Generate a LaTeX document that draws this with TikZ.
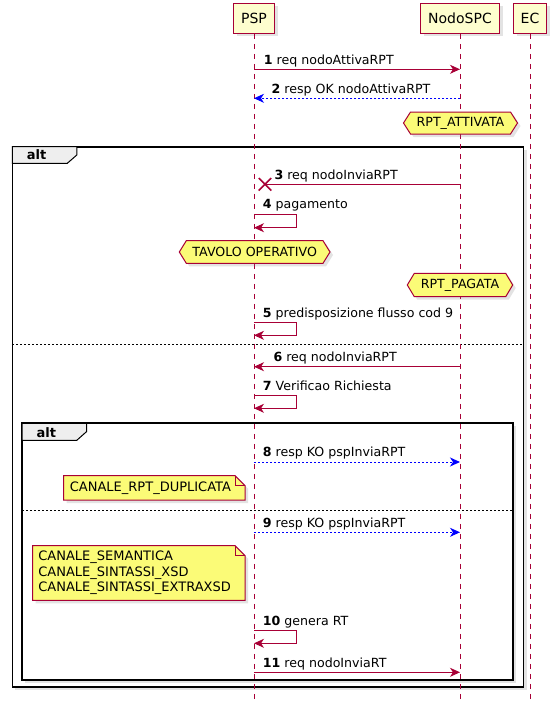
\documentclass[tikz,border=0pt]{standalone}
\usepackage{fontspec}
\setmainfont{DejaVu Sans}
\usetikzlibrary{arrows.meta,shadows,shapes.misc}
\definecolor{umlred}{HTML}{A80036}
\definecolor{umlbox}{HTML}{FEFECE}
\definecolor{umlnote}{HTML}{FBFB77}
\definecolor{umltab}{HTML}{EEEEEE}
\newcommand{\nr}[1]{\textbf{#1}}
\tikzset{
    umlshadow/.style={drop shadow={shadow xshift=3pt,shadow yshift=-3pt,opacity=0.22}},
    participant/.style={draw=umlred, fill=umlbox, line width=1.2pt, minimum height=30pt,
        inner sep=0pt, font=\fontsize{14}{16}\selectfont, umlshadow},
    life/.style={umlred, line width=0.8pt, dash pattern=on 5pt off 5pt},
    msg/.style={umlred, line width=1pt, -{Stealth[length=10pt,width=9pt,inset=3pt]}},
    reply/.style={blue, line width=1pt, dash pattern=on 2pt off 2pt,
        -{Stealth[length=10pt,width=9pt,inset=3pt]}},
    lbl/.style={anchor=base west, inner sep=0pt, font=\fontsize{12.6}{15}\selectfont},
    hexnote/.style={draw=umlred, fill=umlnote, line width=1pt, umlshadow},
    hextext/.style={inner sep=0pt, font=\fontsize{12.6}{15}\selectfont},
    notetext/.style={inner sep=0pt, align=left, font=\fontsize{13}{15.5}\selectfont},
    frame/.style={draw=black, line width=1.8pt, fill=white, umlshadow},
    tab/.style={draw=black, line width=1pt, fill=umltab},
    tabtext/.style={inner sep=0pt, font=\fontsize{13}{15}\selectfont\bfseries},
    sep/.style={black, line width=0.8pt, dash pattern=on 2pt off 2pt}
}
\begin{document}
\begin{tikzpicture}[x=1pt,y=-1pt]
    \useasboundingbox (0,0) rectangle (555,715);
    \draw[frame] (12.4,146.7) rectangle (523.5,686.7);
    \draw[tab] (12.4,146.7) -- (76.8,146.7) -- (76.8,155) -- (67.3,163.3) -- (12.4,163.3) -- cycle;
    \node[tabtext] (alt1) at (36.5,155) {alt};
    \draw[sep] (12.4,344.3) -- (523.5,344.3);
    \draw[frame] (22,423.3) rectangle (512.6,680);
    \draw[tab] (22,423.3) -- (86.7,423.3) -- (86.7,431.5) -- (76.8,440.3) -- (22,440.3) -- cycle;
    \node[tabtext] (alt2) at (46.4,432.3) {alt};
    \draw[sep] (22,510) -- (512.6,510);

    \node[participant, minimum width=41pt] (psp) at (254,18.3) {PSP};
    \node[participant, minimum width=79pt] (nodo) at (460,18.3) {NodoSPC};
    \node[participant, minimum width=33pt] (ec) at (530,18.3) {EC};
    \coordinate (bottom) at (0,702.7);
    \draw[life] (psp.south) -- (psp.south |- bottom);
    \draw[life] (nodo.south) -- (nodo.south |- bottom);
    \draw[life] (ec.south) -- (ec.south |- bottom);

    \draw[msg] (psp |- 0,69.3) -- (nodo |- 0,69.3);
    \node[lbl] (l1) at (263.7,64.3) {\nr{1} req nodoAttivaRPT};
    \draw[reply] (nodo |- 0,98.3) -- (psp |- 0,98.3);
    \node[lbl] (l2) at (271.5,93.3) {\nr{2} resp OK nodoAttivaRPT};
    \draw[hexnote] (403.5,123) -- (410.5,112) -- (510.5,112) -- (517.5,123) -- (510.5,134) -- (410.5,134) -- cycle;
    \node[hextext] (attivata) at (460.5,123) {RPT\_ATTIVATA};

    \node[cross out, draw=umlred, line width=1.5pt, minimum size=11pt, inner sep=0pt] (lost) at (265,184.3) {};
    \draw[umlred, line width=1pt] (nodo |- lost) -- (lost.center);
    \node[lbl] (l3) at (274.3,179.3) {\nr{3} req nodoInviaRPT};
    \draw[msg] (psp |- 0,214.3) -- ++(42.7,0) -- ++(0,13.4) -- (psp |- 0,227.7);
    \node[lbl] (l4) at (262.7,208.8) {\nr{4} pagamento};
    \draw[hexnote] (179.3,252) -- (186.3,240.7) -- (323,240.7) -- (330,252) -- (323,263.3) -- (186.3,263.3) -- cycle;
    \node[hextext] (tavolo) at (254.7,252) {TAVOLO OPERATIVO};
    \draw[hexnote] (407.3,285) -- (414.3,273.3) -- (505.7,273.3) -- (512.7,285) -- (505.7,296.7) -- (414.3,296.7) -- cycle;
    \node[hextext] (pagata) at (460,285) {RPT\_PAGATA};
    \draw[msg] (psp |- 0,322.7) -- ++(42.7,0) -- ++(0,12.6) -- (psp |- 0,335.3);
    \node[lbl] (l5) at (262.7,317.2) {\nr{5} predisposizione flusso cod 9};

    \draw[msg] (nodo |- 0,366.7) -- (psp |- 0,366.7);
    \node[lbl] (l6) at (273.3,361.4) {\nr{6} req nodoInviaRPT};
    \draw[msg] (psp |- 0,395.7) -- ++(42.7,0) -- ++(0,12.6) -- (psp |- 0,408.3);
    \node[lbl] (l7) at (262.7,390.7) {\nr{7} Verificao Richiesta};

    \draw[reply] (psp |- 0,462) -- (nodo |- 0,462);
    \node[lbl] (l8) at (262.7,456.8) {\nr{8} resp KO pspInviaRPT};
    \draw[hexnote] (63.7,475.7) -- (235,475.7) -- (245,485.7) -- (245,500) -- (63.7,500) -- cycle;
    \draw[umlred, line width=1pt] (235,475.7) -- (235,485.7) -- (245,485.7);
    \node[notetext, anchor=west] (dup) at (69.7,487.9) {CANALE\_RPT\_DUPLICATA};

    \draw[reply] (psp |- 0,532.3) -- (nodo |- 0,532.3);
    \node[lbl] (l9) at (262.7,527.1) {\nr{9} resp KO pspInviaRPT};
    \draw[hexnote] (32.6,545.7) -- (235,545.7) -- (245,555.7) -- (245,600.3) -- (32.6,600.3) -- cycle;
    \draw[umlred, line width=1pt] (235,545.7) -- (235,555.7) -- (245,555.7);
    \node[notetext, anchor=west] (canali) at (38.2,572.9) {CANALE\_SEMANTICA\\CANALE\_SINTASSI\_XSD\\CANALE\_SINTASSI\_EXTRAXSD};
    \draw[msg] (psp |- 0,630.7) -- ++(42.7,0) -- ++(0,12.6) -- (psp |- 0,643.3);
    \node[lbl] (l10) at (262.7,625.9) {\nr{10} genera RT};
    \draw[msg] (psp |- 0,672.3) -- (nodo |- 0,672.3);
    \node[lbl] (l11) at (262.7,667.7) {\nr{11} req nodoInviaRT};
\end{tikzpicture}
\end{document}
